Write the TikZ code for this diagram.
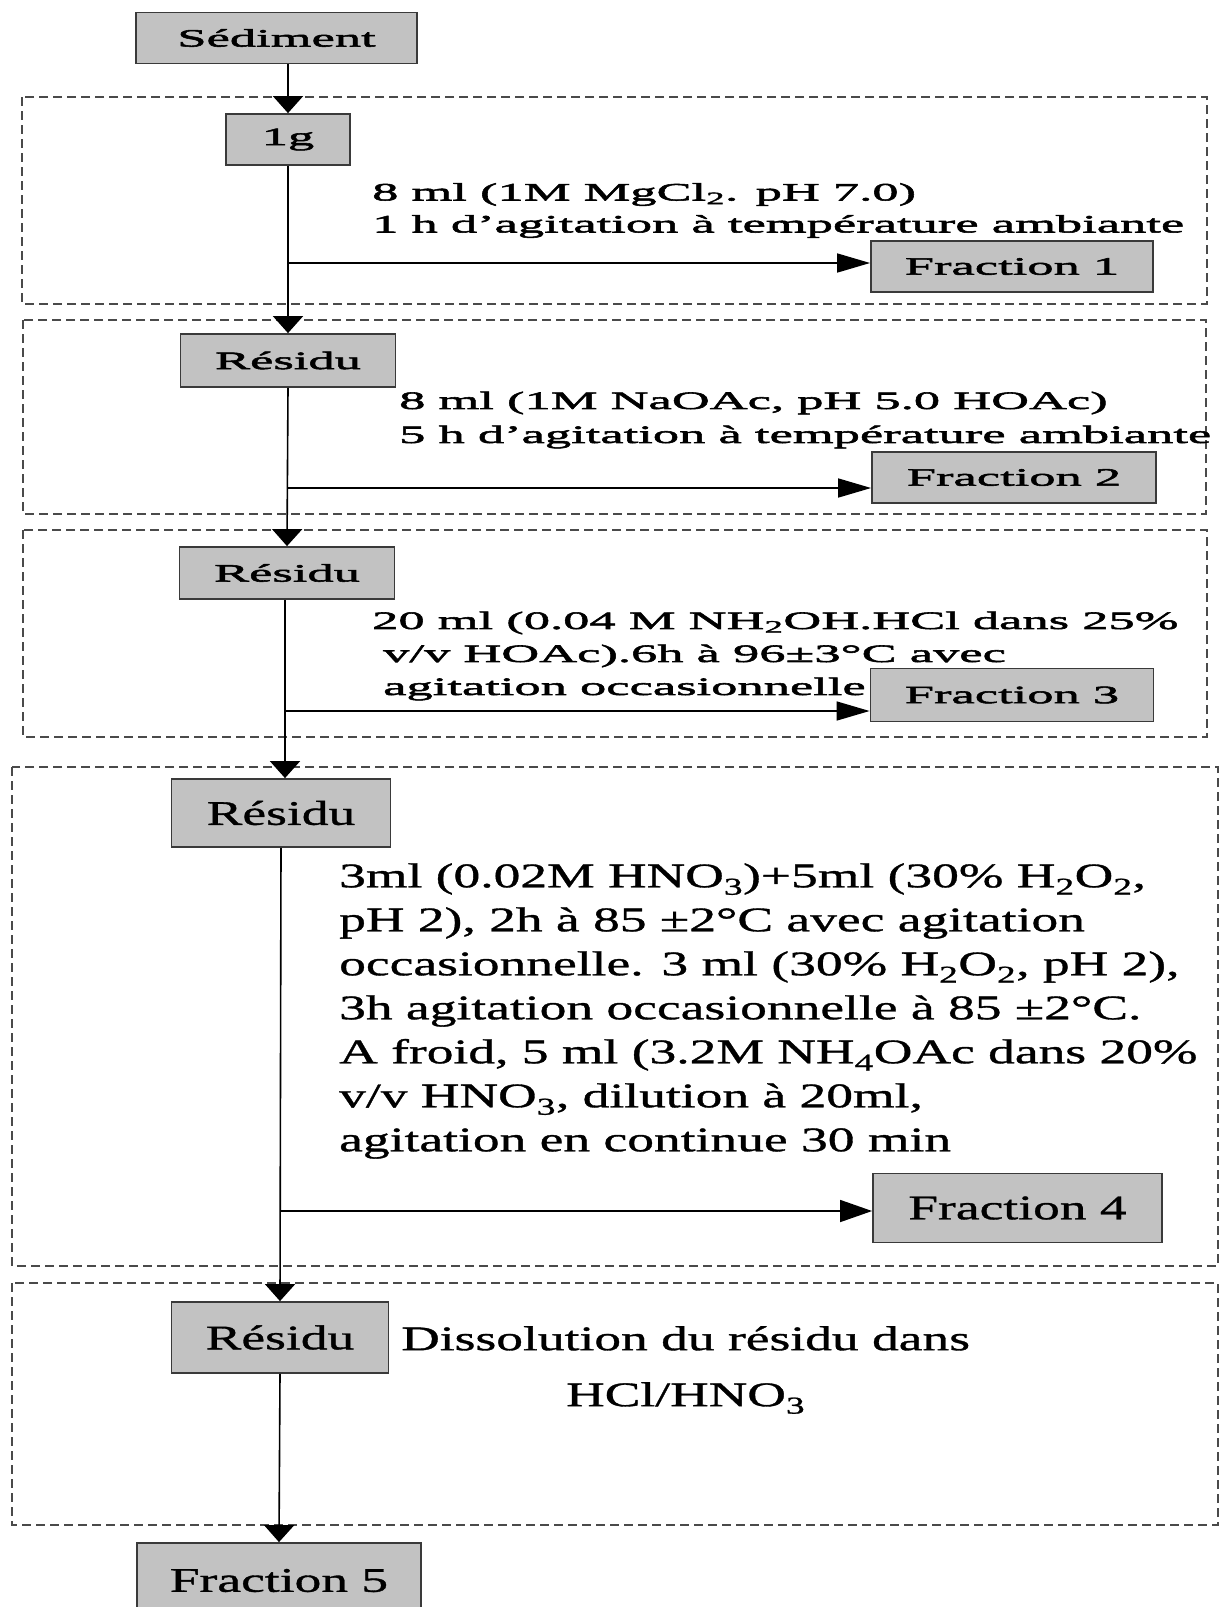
\documentclass[tikz,border=0pt]{standalone}
\usepackage{fontspec}
\usetikzlibrary{arrows.meta}
\setmainfont{Liberation Serif}
% wide serif faces used by the flow chart
\newfontfamily\fa[FakeStretch=2.1,FakeBold=2.2]{Liberation Serif}
\newfontfamily\fb[FakeStretch=1.55,FakeBold=1.0]{Liberation Serif}
\definecolor{boxgray}{HTML}{C2C2C2}
\definecolor{boxline}{HTML}{3A3A3A}
\definecolor{frameline}{HTML}{4A4A4A}
\tikzset{
  stepbox/.style={draw=boxline, fill=boxgray, line width=1.8pt, inner sep=0pt},
  upfont/.style={font=\fa\fontsize{25}{32}\selectfont},
  lowfont/.style={font=\fb\fontsize{34.5}{44}\selectfont},
  frame/.style={draw=frameline, line width=2pt, dash pattern=on 9pt off 5pt},
  flow/.style={line width=1.6pt, draw=black},
  vtip/.style={flow, -{Triangle[length=17pt,width=30pt]}},
  htip/.style={flow, -{Triangle[length=33pt,width=19pt]}},
  htipl/.style={flow, -{Triangle[length=32pt,width=22pt]}},
  txt/.style={inner sep=0pt, anchor=west, align=left},
}
\begin{document}
\begin{tikzpicture}[x=1pt,y=-1pt]
\clip (0,0) rectangle (1221,1607);
\fill[white] (0,0) rectangle (1221,1607);

% dashed frames of the five extraction steps
\draw[frame] (22,97) rectangle (1207,304);
\draw[frame] (23,320) rectangle (1206,514);
\draw[frame] (23,530) rectangle (1207,737);
\draw[frame] (12,767) rectangle (1218,1266);
\draw[frame] (12,1283) rectangle (1218,1525);

% boxes
\node[stepbox, upfont, minimum width=281pt, minimum height=51pt] (sed) at (276.5,38) {Sédiment};
\node[stepbox, upfont, minimum width=124pt, minimum height=51pt] (g1) at (288,139.5) {1g};
\node[stepbox, upfont, minimum width=282pt, minimum height=51pt] (f1) at (1012,266.5) {Fraction 1};
\node[stepbox, upfont, minimum width=215pt, minimum height=53pt] (r2) at (288,360.5) {Résidu};
\node[stepbox, upfont, minimum width=284pt, minimum height=51pt] (f2) at (1014,477.5) {Fraction 2};
\node[stepbox, upfont, minimum width=215pt, minimum height=52pt] (r3) at (287,573) {Résidu};
\node[stepbox, upfont, minimum width=283pt, minimum height=53pt] (f3) at (1012,695) {Fraction 3};
\node[stepbox, lowfont, minimum width=219pt, minimum height=68pt] (r4) at (281,813) {Résidu};
\node[stepbox, lowfont, minimum width=289pt, minimum height=69pt] (f4) at (1017.5,1208) {Fraction 4};
\node[stepbox, lowfont, minimum width=217pt, minimum height=71pt] (r5) at (280,1337.5) {Résidu};
\node[stepbox, lowfont, minimum width=284pt, minimum height=75pt] (f5) at (279,1580.5) {Fraction 5};

% reagents and conditions
\node[txt, upfont] (t1) at (372,210.5)
  {8 ml (1M MgCl\textsubscript{2}. pH 7.0)\\1 h d’agitation à température ambiante};
\node[txt, font=\fa\fontsize{25}{34}\selectfont] (t2) at (399,420)
  {8 ml (1M NaOAc, pH 5.0 HOAc)\\5 h d’agitation à température ambiante};
\node[txt, font=\fa\fontsize{25}{33}\selectfont] (t3) at (372,656)
  {20 ml (0.04 M NH\textsubscript{2}OH.HCl dans 25\%\\
   \hspace*{11pt}v/v HOAc).6h à 96±3°C avec\\
   \hspace*{11pt}agitation occasionnelle};
\node[txt, font=\fb\fontsize{34.5}{44}\selectfont] (t4) at (339,1011)
  {3ml (0.02M HNO\textsubscript{3})+5ml (30\% H\textsubscript{2}O\textsubscript{2},\\
   pH 2), 2h à 85 ±2°C avec agitation\\
   occasionnelle. 3 ml (30\% H\textsubscript{2}O\textsubscript{2}, pH 2),\\
   3h agitation occasionnelle à 85 ±2°C.\\
   A froid, 5 ml (3.2M NH\textsubscript{4}OAc dans 20\%\\
   v/v HNO\textsubscript{3}, dilution à 20ml,\\
   agitation en continue 30 min};
\node[inner sep=0pt, anchor=west, align=center, font=\fb\fontsize{34.5}{56}\selectfont] (t5) at (401,1370)
  {Dissolution du résidu dans\\HCl/HNO\textsubscript{3}};

% main line
\draw[vtip] (g1 |- sed.south) -- (g1.north);
\draw[vtip] (g1.south) -- (r2.north);
\draw[vtip] (r2.south) -- (r3.north);
\draw[vtip] ([xshift=-2pt]r3.south) -- ([xshift=-2pt]r3.south |- r4.north);
\draw[vtip] (r4.south) -- (r5.north);
\draw[vtip] (r5.south) -- (f5.north);

% side branches to the fractions
\coordinate (b1) at (288,263);
\coordinate (b2) at (288,488);
\coordinate (b3) at (285,711);
\coordinate (b4) at (280,1211);
\draw[htip] (b1) -- (b1 -| f1.west);
\draw[htip] (b2) -- (b2 -| f2.west);
\draw[htip] (b3) -- (b3 -| f3.west);
\draw[htipl] (b4) -- (b4 -| f4.west);
\end{tikzpicture}
\end{document}
